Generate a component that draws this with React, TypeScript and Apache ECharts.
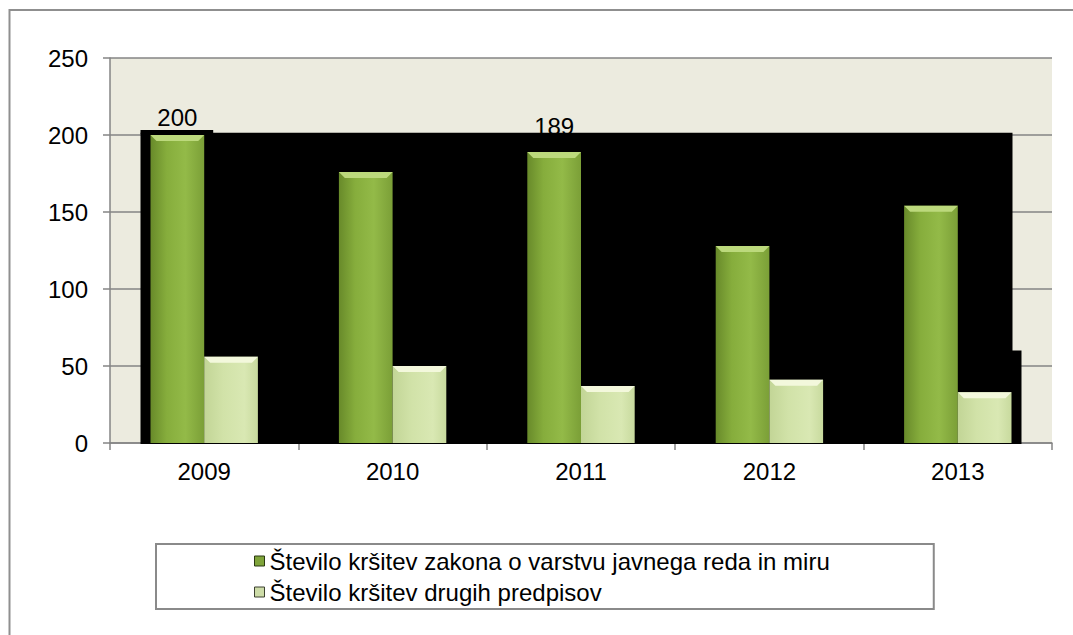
import React, { useEffect, useRef } from 'react';
import * as echarts from 'echarts';

// ---- data ----
const years = ['2009', '2010', '2011', '2012', '2013'];
const publicOrderViolations = [200, 176, 189, 128, 154];
const otherViolations = [56, 50, 37, 41, 33];
const seriesNames = [
  'Število kršitev zakona o varstvu javnega reda in miru',
  'Število kršitev drugih predpisov',
];
const yMin = 0;
const yMax = 250;
const yInterval = 50;
const labelledYears = ['2009', '2011'];

// ---- styles ----
const FONT = '"Liberation Sans", Arial, sans-serif';
const FS = 24;
const BAR_RATIO = 0.285;
const LABEL_LIFT: Record<string, number> = { '2009': 18, '2011': 25 };

const greenFill = () =>
  new echarts.graphic.LinearGradient(0, 0, 1, 0, [
    { offset: 0, color: '#688a2a' },
    { offset: 0.3, color: '#86ad3c' },
    { offset: 0.65, color: '#93ba48' },
    { offset: 1, color: '#7b9f37' },
  ]);
const lightFill = () =>
  new echarts.graphic.LinearGradient(0, 0, 1, 0, [
    { offset: 0, color: '#c2d596' },
    { offset: 0.35, color: '#d1e2a8' },
    { offset: 0.75, color: '#d9e8b3' },
    { offset: 1, color: '#c8da9e' },
  ]);

function barRenderer(side: number, fill: () => any, topColor: string) {
  return (params: any, api: any) => {
    const idx = api.value(0);
    const v = api.value(1);
    const base = api.coord([idx, 0]);
    const top = api.coord([idx, v]);
    const catW = api.size([1, 0])[0];
    const bw = catW * BAR_RATIO;
    const x0 = side === 0 ? base[0] - bw : base[0];
    const y0 = top[1];
    const h = base[1] - top[1];
    const bev = Math.min(6, h / 2);
    return {
      type: 'group',
      children: [
        { type: 'rect', shape: { x: x0, y: y0, width: bw, height: h }, style: { fill: fill() } },
        {
          type: 'polygon',
          shape: {
            points: [
              [x0, y0],
              [x0 + bw, y0],
              [x0 + bw - bev, y0 + bev],
              [x0 + bev, y0 + bev],
            ],
          },
          style: { fill: topColor },
        },
      ],
    };
  };
}

export default function App() {
  const ref = useRef<HTMLDivElement>(null);
  useEffect(() => {
    if (!ref.current) return;
    const chart = echarts.init(ref.current, undefined, { renderer: 'svg' });
    const greenData = years.map((_, i) => [i, publicOrderViolations[i]]);
    const lightData = years.map((_, i) => [i, otherViolations[i]]);
    const labelData = years
      .map((y, i) => [i, publicOrderViolations[i]])
      .filter((_, i) => labelledYears.includes(years[i]));

    chart.setOption({
      animation: false,
      backgroundColor: '#ffffff',
      grid: {
        left: 110,
        right: 21,
        top: 58,
        bottom: 192,
        show: true,
        backgroundColor: '#ECEBDF',
        borderWidth: 0,
      },
      legend: {
        orient: 'vertical',
        left: 156,
        top: 544,
        padding: [5, 104, 5, 98],
        itemGap: 7,
        itemWidth: 10,
        itemHeight: 10,
        borderColor: '#8a8a8a',
        borderWidth: 2,
        backgroundColor: '#ffffff',
        icon: 'rect',
        textStyle: { fontFamily: FONT, fontSize: FS, color: '#000' },
        data: [
          { name: seriesNames[0], itemStyle: { color: '#7fa43a', borderColor: '#2b3812', borderWidth: 1 } },
          { name: seriesNames[1], itemStyle: { color: '#cddca8', borderColor: '#3c4030', borderWidth: 1 } },
        ],
      },
      xAxis: {
        type: 'category',
        data: years,
        boundaryGap: true,
        axisLine: { show: true, lineStyle: { color: '#858585', width: 1.5 } },
        axisTick: { show: true, length: 7, interval: 0, lineStyle: { color: '#858585', width: 1.5 } },
        axisLabel: { fontFamily: FONT, fontSize: FS, color: '#000', margin: 16 },
        splitLine: { show: false },
      },
      yAxis: {
        type: 'value',
        min: yMin,
        max: yMax,
        interval: yInterval,
        axisLine: { show: true, lineStyle: { color: '#858585', width: 1.5 } },
        axisTick: { show: true, length: 7, lineStyle: { color: '#858585', width: 1.5 } },
        axisLabel: { fontFamily: FONT, fontSize: FS, color: '#000', margin: 22 },
        splitLine: { show: true, lineStyle: { color: '#858585', width: 1.5 } },
      },
      series: [
        {
          name: 'labels',
          type: 'custom',
          z: 0,
          silent: true,
          data: labelData,
          encode: { x: 0, y: 1 },
          renderItem: (params: any, api: any) => {
            const idx = api.value(0);
            const v = api.value(1);
            const top = api.coord([idx, v]);
            const catW = api.size([1, 0])[0];
            const bw = catW * BAR_RATIO;
            const lift = LABEL_LIFT[years[idx]] ?? 18;
            return {
              type: 'text',
              style: {
                text: String(v),
                x: top[0] - bw / 2,
                y: top[1] - lift,
                align: 'center',
                verticalAlign: 'middle',
                fontFamily: FONT,
                fontSize: FS,
                fill: '#000',
              },
            };
          },
        },
        {
          name: seriesNames[0],
          type: 'custom',
          z: 3,
          data: greenData,
          encode: { x: 0, y: 1 },
          itemStyle: { color: '#7fa43a' },
          renderItem: barRenderer(0, greenFill, '#bcd97c'),
        },
        {
          name: seriesNames[1],
          type: 'custom',
          z: 3,
          data: lightData,
          encode: { x: 0, y: 1 },
          itemStyle: { color: '#cddca8' },
          renderItem: barRenderer(1, lightFill, '#f3f8dc'),
        },
      ],
    });

    // decorative black backdrop behind the bars, placed from chart coordinates
    const px = (c: number, v: number) => chart.convertToPixel({ xAxisIndex: 0, yAxisIndex: 0 }, [c, v]) as number[];
    const c0 = px(0, 0);
    const c1 = px(1, 0);
    const c4 = px(4, 0);
    const catW = c1[0] - c0[0];
    const bw = catW * BAR_RATIO;
    const baseY = c0[1] + 1;
    const topY = px(0, 201.5)[1];
    const notchY = px(0, 203.3)[1];
    const extY = px(0, 60)[1];
    const left = c0[0] - bw - 10;
    const notchRight = c0[0] + 9;
    const right = c4[0] + bw + 1;
    const extRight = right + 9;

    chart.setOption({
      graphic: [
        {
          type: 'rect',
          z: 1,
          silent: true,
          shape: { x: left, y: topY, width: right - left, height: baseY - topY },
          style: { fill: '#000' },
        },
        {
          type: 'rect',
          z: 1,
          silent: true,
          shape: { x: left, y: notchY, width: notchRight - left, height: topY - notchY + 1 },
          style: { fill: '#000' },
        },
        {
          type: 'rect',
          z: 1,
          silent: true,
          shape: { x: right - 1, y: extY, width: extRight - right + 1, height: baseY - extY },
          style: { fill: '#000' },
        },
        {
          type: 'polyline',
          z: 0,
          silent: true,
          shape: { points: [[9.5, 700], [9.5, 10], [1200, 10]] },
          style: { fill: 'none', stroke: '#8f8f8f', lineWidth: 2 },
        },
      ],
    });

    return () => chart.dispose();
  }, []);

  return (
    <div
      ref={ref}
      style={{ position: 'fixed', left: 0, top: 0, width: 1073, height: 635, background: '#fff' }}
    />
  );
}
